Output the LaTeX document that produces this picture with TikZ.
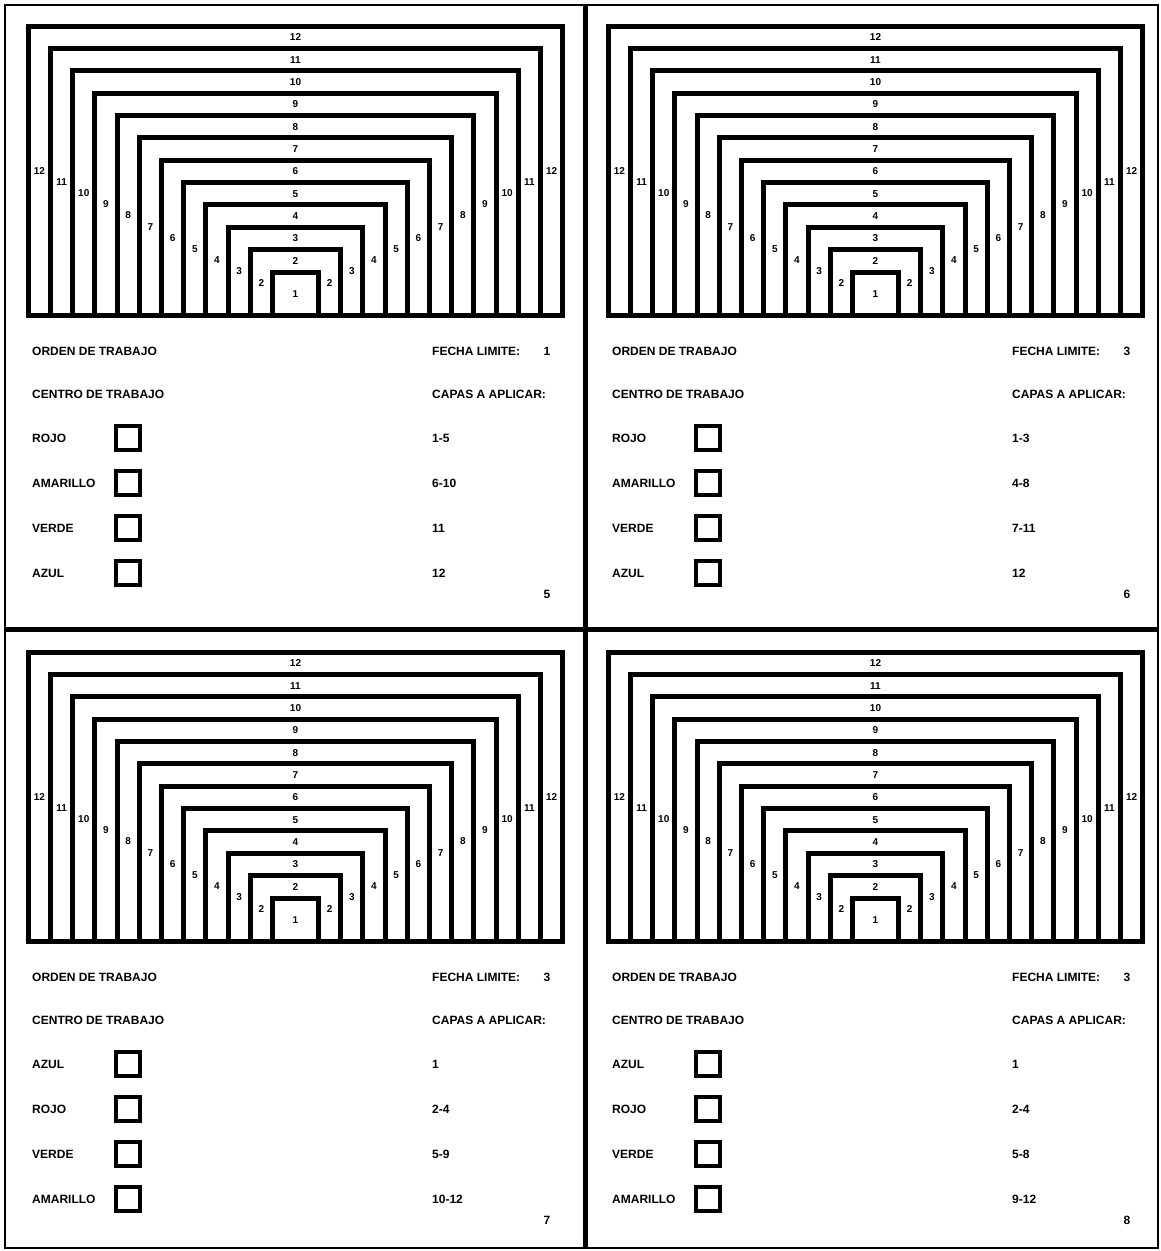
\documentclass[tikz,border=0pt]{standalone}
\usepackage{fontspec}
\setmainfont{Liberation Sans}
\begin{document}
\begin{tikzpicture}[x=1pt,y=-1pt,
    arco/.style={line width=5pt},
    caja/.style={draw,line width=4.5pt,minimum size=24pt,inner sep=0pt},
    num/.style={font=\bfseries\fontsize{10}{10}\selectfont,inner sep=0pt},
    txt/.style={font=\bfseries\fontsize{12}{12}\selectfont,inner sep=0pt,anchor=west}]
    \useasboundingbox (0,0) rectangle (1161,1251);
    % marco y divisiones
    \draw[line width=2.5pt] (5,5) rectangle (1158,1248);
    \draw[line width=5pt] (585,5) -- (585,1248);
    \draw[line width=5pt] (5,629) -- (1158,629);
    \foreach \dx/\dy/\fecha/\hoja/\ca/\cb/\cc/\cd/\ra/\rb/\rc/\rd in
      {0/0/1/5/ROJO/AMARILLO/VERDE/AZUL/1-5/6-10/11/12,
       580/0/3/6/ROJO/AMARILLO/VERDE/AZUL/1-3/4-8/7-11/12,
       0/626/3/7/AZUL/ROJO/VERDE/AMARILLO/1/2-4/5-9/10-12,
       580/626/3/8/AZUL/ROJO/VERDE/AMARILLO/1/2-4/5-8/9-12}{
      \begin{scope}[shift={(\dx,\dy)}]
        % capas
        \foreach \k in {1,...,12}{
          \pgfmathsetmacro\ancho{23+(\k-1)*22.2}
          \pgfmathsetmacro\alto{272-(\k-1)*22.36}
          \pgfmathsetmacro\ly{\k==1 ? 293.8 : \alto+11.2}
          \draw[arco] (295.5-\ancho,315.5) -- (295.5-\ancho,\alto) -- (295.5+\ancho,\alto) -- (295.5+\ancho,315.5);
          \node[num] (arr\hoja-\k) at (295.5,\ly) {\k};
          \ifnum\k>1
            \node[num] (izq\hoja-\k) at (295.5-\ancho+11.1,{(\alto+315.5)/2}) {\k};
            \node[num] (der\hoja-\k) at (295.5+\ancho-11.1,{(\alto+315.5)/2}) {\k};
          \fi
        }
        \draw[arco] (26,315.5) -- (565,315.5);
        % datos
        \node[txt] (orden\hoja) at (32,351) {ORDEN DE TRABAJO};
        \node[txt] (centro\hoja) at (32,394) {CENTRO DE TRABAJO};
        \node[txt] (limite\hoja) at (432,351) {FECHA LIMITE:};
        \node[txt,anchor=center] (dia\hoja) at (547,351) {\fecha};
        \node[txt] (capas\hoja) at (432,394) {CAPAS A APLICAR:};
        \foreach \col/\rng [count=\i] in {\ca/\ra,\cb/\rb,\cc/\rc,\cd/\rd}{
          \pgfmathsetmacro\fy{393+45*\i}
          \node[txt] (color\hoja-\i) at (32,\fy) {\col};
          \node[caja] (caja\hoja-\i) at (128,\fy) {};
          \node[txt] (rango\hoja-\i) at (432,\fy) {\rng};
        }
        \node[txt,anchor=center] (num\hoja) at (547,594) {\hoja};
      \end{scope}
    }
\end{tikzpicture}
\end{document}
